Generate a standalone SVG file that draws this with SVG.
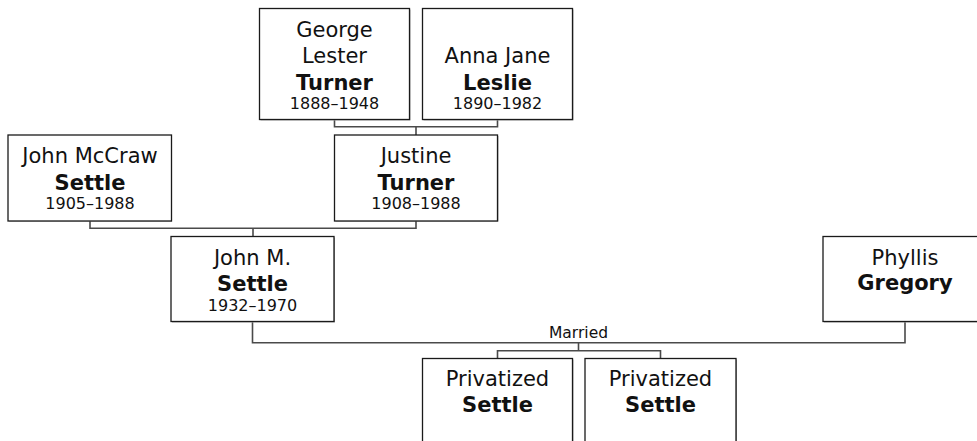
<svg xmlns="http://www.w3.org/2000/svg" width="977" height="441" viewBox="0 0 977 441">
<style>
.box{fill:#fff;stroke:#1a1a1a;stroke-width:1.3}
.sh{fill:#aaa}
.n{font-family:"DejaVu Sans",Verdana,sans-serif;font-size:21px;fill:#111;text-anchor:middle}
.b{font-weight:bold}
.y{font-family:"DejaVu Sans",Verdana,sans-serif;font-size:16px;fill:#111;text-anchor:middle}
.c{fill:none;stroke:#4a4a4a;stroke-width:1.6}
.m{font-family:"DejaVu Sans",Verdana,sans-serif;font-size:15.5px;fill:#111;text-anchor:middle}
</style>
<rect width="977" height="441" fill="#fff"/>
<g id="connectors">
<path class="c" d="M334.5,119.5 V126.7 H497.5 V119.5 M416,126.7 V135"/>
<path class="c" d="M90,221 V228.3 H416 V221 M253,228.3 V236.5"/>
<path class="c" d="M252.5,321.5 V342.7 H905 V321.5 M578.5,342.7 V350.7 M497.5,358.5 V350.7 H660.5 V358.5"/>
<text class="m" x="578.5" y="338.3">Married</text>
</g>
<g id="george">
<rect class="sh" x="260.5" y="9.5" width="150" height="111"/>
<rect class="box" x="259.5" y="8.5" width="150" height="111"/>
<text class="n" x="334.5" y="36.7">George</text>
<text class="n" x="334.5" y="63.3">Lester</text>
<text class="n b" x="334.5" y="90">Turner</text>
<text class="y" x="334.5" y="109.3">1888–1948</text>
</g>
<g id="anna">
<rect class="sh" x="423.5" y="9.5" width="150" height="111"/>
<rect class="box" x="422.5" y="8.5" width="150" height="111"/>
<text class="n" x="497.5" y="63.3">Anna Jane</text>
<text class="n b" x="497.5" y="90">Leslie</text>
<text class="y" x="497.5" y="109.3">1890–1982</text>
</g>
<g id="johnmccraw">
<rect class="sh" x="9" y="136" width="163" height="85.5"/>
<rect class="box" x="8" y="135" width="163.5" height="86"/>
<text class="n" x="90" y="163.3">John McCraw</text>
<text class="n b" x="90" y="190">Settle</text>
<text class="y" x="90" y="209">1905–1988</text>
</g>
<g id="justine">
<rect class="sh" x="335.5" y="136" width="163" height="85.5"/>
<rect class="box" x="334.5" y="135" width="163" height="86"/>
<text class="n" x="416" y="163.3">Justine</text>
<text class="n b" x="416" y="190">Turner</text>
<text class="y" x="416" y="209">1908–1988</text>
</g>
<g id="johnm">
<rect class="sh" x="172" y="237.5" width="163" height="85"/>
<rect class="box" x="171" y="236.5" width="163" height="85"/>
<text class="n" x="252.5" y="265">John M.</text>
<text class="n b" x="252.5" y="291">Settle</text>
<text class="y" x="252.5" y="311">1932–1970</text>
</g>
<g id="phyllis">
<rect class="sh" x="824" y="237.5" width="163" height="85"/>
<rect class="box" x="823" y="236.5" width="163" height="85"/>
<text class="n" x="905" y="264.5">Phyllis</text>
<text class="n b" x="905" y="290">Gregory</text>
</g>
<g id="child1">
<rect class="sh" x="423.5" y="359.5" width="150" height="100"/>
<rect class="box" x="422.5" y="358.5" width="150" height="100"/>
<text class="n" x="497.5" y="386">Privatized</text>
<text class="n b" x="497.5" y="411.7">Settle</text>
</g>
<g id="child2">
<rect class="sh" x="586" y="359.5" width="151" height="100"/>
<rect class="box" x="585" y="358.5" width="151" height="100"/>
<text class="n" x="660.5" y="386">Privatized</text>
<text class="n b" x="660.5" y="411.7">Settle</text>
</g>
</svg>
